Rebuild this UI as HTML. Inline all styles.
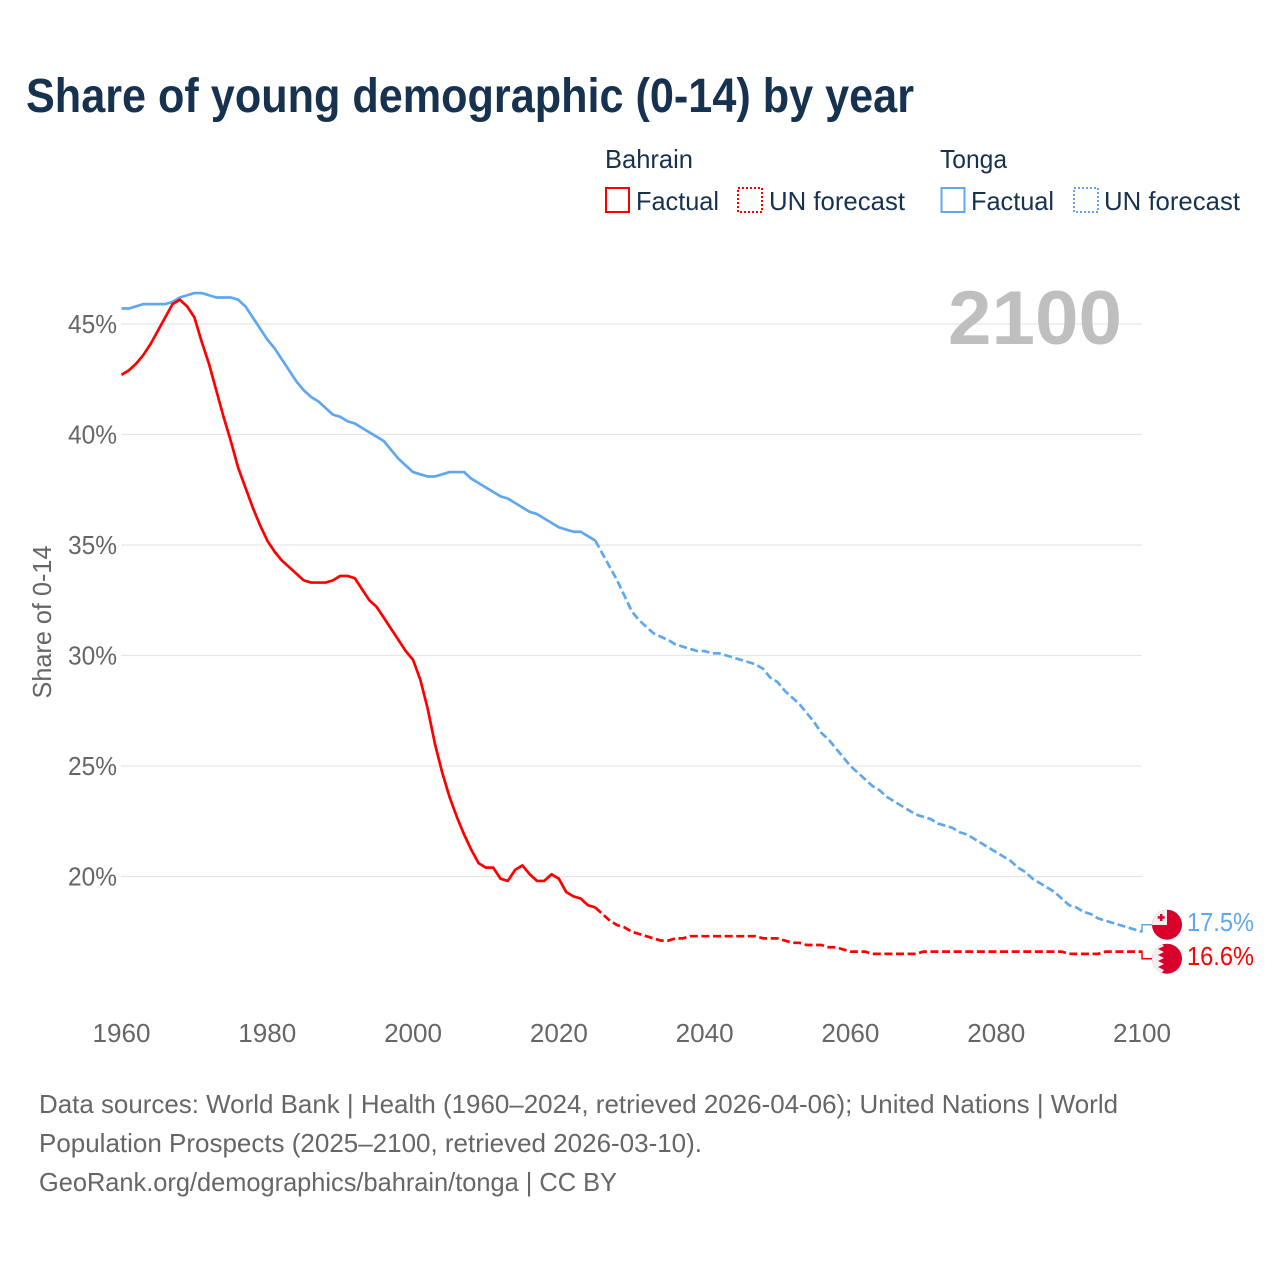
<!DOCTYPE html>
<html lang="en">
<head>
<meta charset="utf-8">
<title>Share of young demographic (0-14) by year</title>
<style>
html,body{margin:0;padding:0;background:#fff;width:1280px;height:1280px;overflow:hidden}
svg{display:block}
text{font-family:"Liberation Sans",sans-serif}
</style>
</head>
<body>
<svg id="chart" xmlns="http://www.w3.org/2000/svg" width="1280" height="1280" viewBox="0 0 1280 1280">
  <defs>
    <clipPath id="clip-flag-tonga"><circle id="clip-tonga-circle" cx="1167" cy="924.7" r="15"/></clipPath>
    <clipPath id="clip-flag-bahrain"><circle id="clip-bahrain-circle" cx="1167" cy="958.7" r="15"/></clipPath>
  </defs>
  <text x="26" y="112" font-size="48" font-weight="700" fill="#17324f" textLength="888" lengthAdjust="spacingAndGlyphs">Share of young demographic (0-14) by year</text>

  <g font-size="26" fill="#17324f">
    <text x="605" y="168" textLength="88" lengthAdjust="spacingAndGlyphs">Bahrain</text>
    <text x="940" y="168" textLength="67" lengthAdjust="spacingAndGlyphs">Tonga</text>
    <rect x="606" y="188" width="23" height="24" fill="none" stroke="#ff0000" stroke-width="2"/>
    <text x="636" y="210" textLength="83" lengthAdjust="spacingAndGlyphs">Factual</text>
    <rect x="738" y="188" width="24" height="24" fill="none" stroke="#ff0000" stroke-width="2" stroke-dasharray="2,2"/>
    <text x="769" y="210" textLength="136" lengthAdjust="spacingAndGlyphs">UN forecast</text>
    <rect x="941.500" y="188" width="23" height="24" fill="none" stroke="#5fa8ee" stroke-width="2"/>
    <text x="971" y="210" textLength="83" lengthAdjust="spacingAndGlyphs">Factual</text>
    <rect x="1074" y="188" width="24" height="24" fill="none" stroke="#5fa8ee" stroke-width="2" stroke-dasharray="2,2"/>
    <text x="1104" y="210" textLength="136" lengthAdjust="spacingAndGlyphs">UN forecast</text>
  </g>

  <g id="grid"></g>
  <g id="y-ticks"></g>
  <g id="x-ticks"></g>
  <text transform="translate(51,622) rotate(-90)" text-anchor="middle" font-size="26" fill="#666666" textLength="153" lengthAdjust="spacingAndGlyphs">Share of 0-14</text>
  <text x="948" y="344" font-size="76" font-weight="700" fill="#bfbfbf" textLength="174" lengthAdjust="spacingAndGlyphs">2100</text>

  <g id="series"></g>

  <g id="flag-tonga" clip-path="url(#clip-flag-tonga)">
    <rect x="1152" y="909" width="30" height="32" fill="#d9002b"/>
    <rect x="1152" y="909" width="15" height="16" fill="#efefef"/>
    <rect x="1160" y="914" width="2.500" height="7" fill="#d9002b"/>
    <rect x="1157.700" y="916.200" width="7" height="2.500" fill="#d9002b"/>
  </g>
  <g id="flag-bahrain" clip-path="url(#clip-flag-bahrain)">
    <rect x="1152" y="943" width="30" height="32" fill="#d9002b"/>
    <polygon points="1152,943 1160,943 1164,946 1158,949 1164,952 1158,955 1164,958 1158,961 1164,964 1158,967 1164,970 1160,975 1152,975" fill="#efefef"/>
  </g>
  <g id="end-labels"></g>

  <g font-size="26" fill="#666666">
    <text x="39" y="1113" textLength="1079" lengthAdjust="spacingAndGlyphs">Data sources: World Bank | Health (1960–2024, retrieved 2026-04-06); United Nations | World</text>
    <text x="39" y="1152" textLength="663" lengthAdjust="spacingAndGlyphs">Population Prospects (2025–2100, retrieved 2026-03-10).</text>
    <text x="39" y="1191" textLength="578" lengthAdjust="spacingAndGlyphs">GeoRank.org/demographics/bahrain/tonga | CC BY</text>
  </g>
</svg>
<script>
const yTickValues = [20, 25, 30, 35, 40, 45];
const xTickYears = [1960, 1980, 2000, 2020, 2040, 2060, 2080, 2100];
const factualStartYear = 1960;
const forecastStartYear = 2025;
const bahrainFactual = [42.7,42.9,43.2,43.6,44.1,44.7,45.3,45.9,46.1,45.8,45.3,44.2,43.2,42.0,40.8,39.7,38.5,37.6,36.7,35.9,35.2,34.7,34.3,34.0,33.7,33.4,33.3,33.3,33.3,33.4,33.6,33.6,33.5,33.0,32.5,32.2,31.7,31.2,30.7,30.2,29.8,28.9,27.6,26.0,24.7,23.6,22.7,21.9,21.2,20.6,20.4,20.4,19.9,19.8,20.3,20.5,20.1,19.8,19.8,20.1,19.9,19.3,19.1,19.0,18.7,18.6];
const bahrainForecast = [18.6,18.3,18.0,17.8,17.7,17.5,17.4,17.3,17.2,17.1,17.1,17.2,17.2,17.3,17.3,17.3,17.3,17.3,17.3,17.3,17.3,17.3,17.3,17.2,17.2,17.2,17.1,17.0,17.0,16.9,16.9,16.9,16.8,16.8,16.7,16.6,16.6,16.6,16.5,16.5,16.5,16.5,16.5,16.5,16.5,16.6,16.6,16.6,16.6,16.6,16.6,16.6,16.6,16.6,16.6,16.6,16.6,16.6,16.6,16.6,16.6,16.6,16.6,16.6,16.6,16.5,16.5,16.5,16.5,16.5,16.6,16.6,16.6,16.6,16.6,16.6];
const tongaFactual = [45.7,45.7,45.8,45.9,45.9,45.9,45.9,46.0,46.2,46.3,46.4,46.4,46.3,46.2,46.2,46.2,46.1,45.8,45.3,44.8,44.3,43.9,43.4,42.9,42.4,42.0,41.7,41.5,41.2,40.9,40.8,40.6,40.5,40.3,40.1,39.9,39.7,39.3,38.9,38.6,38.3,38.2,38.1,38.1,38.2,38.3,38.3,38.3,38.0,37.8,37.6,37.4,37.2,37.1,36.9,36.7,36.5,36.4,36.2,36.0,35.8,35.7,35.6,35.6,35.4,35.2];
const tongaForecast = [35.2,34.6,34.0,33.4,32.7,32.0,31.6,31.3,31.0,30.85,30.7,30.5,30.4,30.3,30.2,30.2,30.1,30.1,30.0,29.9,29.8,29.7,29.6,29.4,29.0,28.8,28.4,28.1,27.8,27.4,27.0,26.5,26.2,25.8,25.4,25.0,24.7,24.4,24.1,23.9,23.6,23.4,23.2,23.0,22.8,22.7,22.6,22.4,22.3,22.2,22.0,21.9,21.7,21.5,21.3,21.1,20.9,20.7,20.4,20.2,19.9,19.7,19.5,19.3,19.0,18.7,18.6,18.4,18.3,18.1,18.0,17.9,17.8,17.7,17.6,17.5];

const NS = 'http://www.w3.org/2000/svg';
const xScale = function (year) { return 121.5 + (year - 1960) * (1142 - 121.5) / 140; };
const yScale = function (v) { return 876.5 - (v - 20) * 22.1; };

function make(tag, attrs, parent, txt) {
  const el = document.createElementNS(NS, tag);
  for (const k in attrs) el.setAttribute(k, attrs[k]);
  if (txt !== undefined) el.textContent = txt;
  parent.appendChild(el);
  return el;
}

function linePath(values, startYear) {
  return values.map(function (v, i) {
    return (i ? 'L' : 'M') + xScale(startYear + i).toFixed(2) + ' ' + yScale(v).toFixed(2);
  }).join(' ');
}

const gridG = document.getElementById('grid');
const yG = document.getElementById('y-ticks');
yTickValues.forEach(function (v) {
  const line = make('line', {x1: 121, x2: 1142, y1: yScale(v), y2: yScale(v), stroke: '#e6e6e6', 'stroke-width': 1.2}, gridG);
  
  
  const t = make('text', {x: 117, y: yScale(v) + 9, 'text-anchor': 'end', 'font-size': 26, fill: '#666666', textLength: 49, lengthAdjust: 'spacingAndGlyphs'}, yG, v + '%');
  
  
});

const xG = document.getElementById('x-ticks');
xTickYears.forEach(function (yr) {
  const t = make('text', {x: xScale(yr), y: 1042, 'text-anchor': 'middle', 'font-size': 26, fill: '#666666', textLength: 58, lengthAdjust: 'spacingAndGlyphs'}, xG, String(yr));
  
  
});

const sG = document.getElementById('series');
const blue = '#5fa8ee';
const red = '#ff0000';
const lineWidth = 2.7;
const dashPattern = '8,3.6';

const tongaSolid = make('path', {d: linePath(tongaFactual, factualStartYear), fill: 'none', stroke: blue, 'stroke-width': lineWidth, 'stroke-linejoin': 'round'}, sG);



const tongaDash = make('path', {d: linePath(tongaForecast, forecastStartYear), fill: 'none', stroke: blue, 'stroke-width': lineWidth, 'stroke-dasharray': dashPattern}, sG);



const bahrainSolid = make('path', {d: linePath(bahrainFactual, factualStartYear), fill: 'none', stroke: red, 'stroke-width': lineWidth, 'stroke-linejoin': 'round'}, sG);



const bahrainDash = make('path', {d: linePath(bahrainForecast, forecastStartYear), fill: 'none', stroke: red, 'stroke-width': lineWidth, 'stroke-dasharray': dashPattern}, sG);



const tongaEnd = tongaForecast[tongaForecast.length - 1];
const bahrainEnd = bahrainForecast[bahrainForecast.length - 1];
const midY = (yScale(tongaEnd) + yScale(bahrainEnd)) / 2;
const tongaLabelY = midY - 17;
const bahrainLabelY = midY + 17;
const endX = xScale(2100);

const tongaConn = make('path', {d: 'M' + (endX - 2) + ' ' + yScale(tongaEnd) + ' H' + endX + ' V' + tongaLabelY + ' H1152', fill: 'none', stroke: blue, 'stroke-width': 1.5}, sG);



const bahrainConn = make('path', {d: 'M' + (endX - 2) + ' ' + yScale(bahrainEnd) + ' H' + endX + ' V' + bahrainLabelY + ' H1152', fill: 'none', stroke: red, 'stroke-width': 1.5}, sG);



const labelsG = document.getElementById('end-labels');
const tongaLabel = make('text', {x: 1187, y: tongaLabelY + 6.5, 'font-size': 26, fill: blue, textLength: 67, lengthAdjust: 'spacingAndGlyphs'}, labelsG, tongaEnd.toFixed(1) + '%');



const bahrainLabel = make('text', {x: 1187, y: bahrainLabelY + 6.5, 'font-size': 26, fill: red, textLength: 67, lengthAdjust: 'spacingAndGlyphs'}, labelsG, bahrainEnd.toFixed(1) + '%');



document.getElementById('flag-tonga').setAttribute('transform', 'translate(0,' + (tongaLabelY - 924.7) + ')');
document.getElementById('flag-bahrain').setAttribute('transform', 'translate(0,' + (bahrainLabelY - 958.7) + ')');
</script>
</body>
</html>
